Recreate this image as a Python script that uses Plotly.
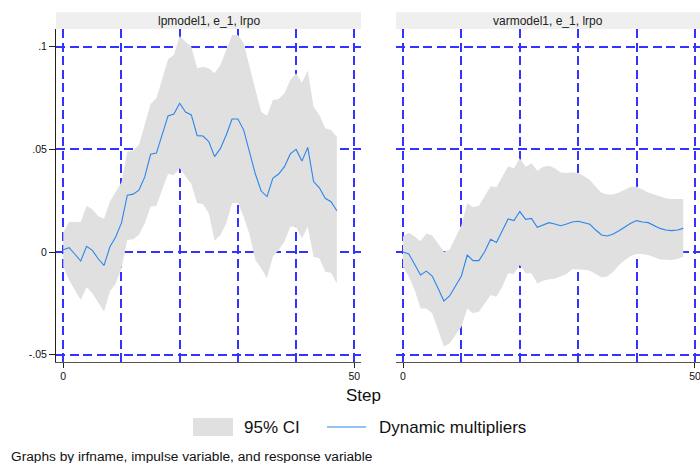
import plotly.graph_objects as go

steps_lp = list(range(0, 48))
steps_var = list(range(0, 49))

irf_lp = [0.0011, 0.0021, -0.0011, -0.0044, 0.0028, 0.0008, -0.0033, -0.0065, 0.0024, 0.0073,
          0.0142, 0.0277, 0.0282, 0.0301, 0.0366, 0.0476, 0.0482, 0.0570, 0.0663, 0.0672,
          0.0725, 0.0682, 0.0668, 0.0567, 0.0565, 0.0538, 0.0465, 0.0505, 0.0570, 0.0648,
          0.0648, 0.0594, 0.0489, 0.0380, 0.0297, 0.0270, 0.0359, 0.0380, 0.0416, 0.0478,
          0.0500, 0.0443, 0.0510, 0.0343, 0.0313, 0.0262, 0.0245, 0.0201]
upper_lp = [0.0095, 0.0146, 0.0146, 0.0146, 0.0224, 0.0208, 0.0175, 0.0162, 0.0245, 0.0294,
            0.0340, 0.0489, 0.0495, 0.0521, 0.0620, 0.0721, 0.0749, 0.0850, 0.0939, 0.0960,
            0.1053, 0.1025, 0.1000, 0.0895, 0.0903, 0.0895, 0.0871, 0.0911, 0.0984, 0.1057,
            0.1057, 0.1017, 0.0903, 0.0789, 0.0684, 0.0663, 0.0741, 0.0745, 0.0773, 0.0838,
            0.0871, 0.0825, 0.0884, 0.0708, 0.0668, 0.0603, 0.0595, 0.0562]
lower_lp = [-0.0072, -0.0136, -0.0185, -0.0234, -0.0172, -0.0201, -0.0247, -0.0291, -0.0193, -0.0153,
            -0.0079, 0.0058, 0.0062, 0.0083, 0.0140, 0.0221, 0.0225, 0.0305, 0.0380, 0.0375,
            0.0408, 0.0367, 0.0331, 0.0237, 0.0234, 0.0189, 0.0055, 0.0083, 0.0140, 0.0237,
            0.0240, 0.0172, 0.0085, -0.0039, -0.0080, -0.0128, -0.0023, 0.0010, 0.0050, 0.0123,
            0.0123, 0.0067, 0.0123, -0.0023, -0.0031, -0.0096, -0.0101, -0.0153]

irf_var = [0.0000, -0.0010, -0.0061, -0.0112, -0.0093, -0.0117, -0.0177, -0.0239, -0.0213, -0.0166,
           -0.0117, -0.0015, -0.0042, -0.0042, 0.0002, 0.0062, 0.0046, 0.0104, 0.0161, 0.0153,
           0.0197, 0.0159, 0.0164, 0.0120, 0.0132, 0.0143, 0.0136, 0.0128, 0.0136, 0.0146,
           0.0150, 0.0143, 0.0135, 0.0107, 0.0083, 0.0078, 0.0088, 0.0104, 0.0123, 0.0140,
           0.0153, 0.0146, 0.0143, 0.0127, 0.0115, 0.0107, 0.0104, 0.0107, 0.0115]
upper_var = [0.0075, 0.0094, 0.0075, 0.0052, 0.0090, 0.0080, 0.0042, 0.0000, 0.0012, 0.0070,
             0.0130, 0.0237, 0.0218, 0.0225, 0.0270, 0.0320, 0.0315, 0.0370, 0.0418, 0.0408,
             0.0457, 0.0416, 0.0432, 0.0396, 0.0416, 0.0420, 0.0408, 0.0387, 0.0385, 0.0387,
             0.0385, 0.0370, 0.0351, 0.0318, 0.0289, 0.0280, 0.0280, 0.0290, 0.0306, 0.0318,
             0.0318, 0.0302, 0.0290, 0.0280, 0.0270, 0.0262, 0.0258, 0.0258, 0.0258]
lower_var = [-0.0072, -0.0120, -0.0185, -0.0275, -0.0275, -0.0299, -0.0380, -0.0461, -0.0445, -0.0404,
             -0.0364, -0.0275, -0.0299, -0.0291, -0.0250, -0.0210, -0.0218, -0.0169, -0.0104, -0.0107,
             -0.0063, -0.0104, -0.0104, -0.0153, -0.0140, -0.0133, -0.0130, -0.0120, -0.0107, -0.0084,
             -0.0084, -0.0086, -0.0091, -0.0107, -0.0123, -0.0120, -0.0096, -0.0063, -0.0039, -0.0020,
             -0.0010, -0.0010, -0.0015, -0.0026, -0.0036, -0.0039, -0.0039, -0.0034, -0.0023]

panel_titles = ["lpmodel1, e_1, lrpo", "varmodel1, e_1, lrpo"]
xgrid_vals = [0, 10, 20, 30, 40, 50]
xtick_vals = [0, 50]
xtick_text = ["0", "50"]
ytick_vals = [-0.05, 0, 0.05, 0.1]
ytick_text = ["-.05", "0", ".05", ".1"]
legend_labels = ["95% CI", "Dynamic multipliers"]
x_title = "Step"
note = "Graphs by irfname, impulse variable, and response variable"

W, H = 700, 463
CI_COLOR = "#E0E0E0"
LINE_COLOR = "#2A86EC"
GRID_COLOR = "#3333FF"
GRID_DASH = "9px,4.5px"
GRID_W = 1.5
FONT = "Liberation Sans, Arial, sans-serif"


def px_x(p):
    return p / W


def px_y(p):
    return (H - p) / H


fig = go.Figure()

panels = [
    (steps_lp, irf_lp, upper_lp, lower_lp, "x", "y", "x3"),
    (steps_var, irf_var, upper_var, lower_var, "x2", "y2", "x4"),
]
for st, irf, up, lo, xa, ya, xlab in panels:
    fig.add_trace(go.Scatter(x=st + st[::-1], y=up + lo[::-1], fill="toself",
                             fillcolor=CI_COLOR, line=dict(width=0), mode="lines",
                             hoverinfo="skip", showlegend=False, xaxis=xa, yaxis=ya))
    fig.add_trace(go.Scatter(x=st, y=irf, mode="lines", line=dict(color=LINE_COLOR, width=1.1),
                             showlegend=False, xaxis=xa, yaxis=ya))
    # empty trace so the label-only overlay axis is drawn
    fig.add_trace(go.Scatter(x=[None], y=[None], mode="lines", showlegend=False,
                             hoverinfo="skip", xaxis=xlab, yaxis=ya))

y_dom = [px_y(361.7), px_y(29)]
y_rng = [-0.05346, 0.10867]
x_doms = [[px_x(56), px_x(361)], [px_x(396), 1.0]]
x_rngs = [[-1.25, 51.15], [-1.2, 50.86]]

grid_x = dict(tickmode="array", tickvals=xgrid_vals, showticklabels=False, ticks="",
              showline=True, linecolor="#555", linewidth=1, zeroline=False,
              showgrid=True, gridcolor=GRID_COLOR, griddash=GRID_DASH, gridwidth=GRID_W)
label_x = dict(tickmode="array", tickvals=xtick_vals, ticktext=xtick_text, ticks="outside",
               ticklen=5, tickcolor="#222", tickfont=dict(size=10.5, color="#111", family=FONT),
               ticklabeloverflow="allow",
               showline=False, showgrid=False, zeroline=False)

fig.update_layout(
    width=W, height=H,
    margin=dict(l=0, r=0, t=0, b=0),
    paper_bgcolor="white", plot_bgcolor="white",
    font=dict(family=FONT, color="#111"),
    showlegend=False,
    xaxis=dict(domain=x_doms[0], range=x_rngs[0], anchor="y", **grid_x),
    xaxis2=dict(domain=x_doms[1], range=x_rngs[1], anchor="y2", **grid_x),
    xaxis3=dict(domain=x_doms[0], range=x_rngs[0], anchor="y", overlaying="x", side="bottom", **label_x),
    xaxis4=dict(domain=x_doms[1], range=x_rngs[1], anchor="y2", overlaying="x2", side="bottom", **label_x),
    yaxis=dict(domain=y_dom, range=y_rng, anchor="x", tickmode="array",
               tickvals=ytick_vals, ticktext=ytick_text, ticks="outside", ticklen=6,
               tickcolor="#222", tickfont=dict(size=10.5, color="#111", family=FONT),
               showline=True, linecolor="#222", linewidth=1, zeroline=False,
               showgrid=True, gridcolor=GRID_COLOR, griddash=GRID_DASH, gridwidth=GRID_W),
    yaxis2=dict(domain=y_dom, range=y_rng, anchor="x2", tickmode="array",
                tickvals=ytick_vals, showticklabels=False, ticks="", showline=False,
                zeroline=False, showgrid=True, gridcolor=GRID_COLOR, griddash=GRID_DASH,
                gridwidth=GRID_W),
)

shapes = []
annotations = []
strips = [(56, 361, panel_titles[0]), (396, 700, panel_titles[1])]
for x0, x1, title in strips:
    shapes.append(dict(type="rect", xref="paper", yref="paper", x0=px_x(x0), x1=px_x(x1),
                       y0=px_y(29), y1=px_y(12.3), fillcolor="#EFEFEF", line=dict(width=0),
                       layer="below"))
    annotations.append(dict(xref="paper", yref="paper", x=px_x((x0 + x1) / 2), y=px_y(20.8),
                            text=title, showarrow=False, xanchor="center", yanchor="middle",
                            font=dict(size=12, color="#222", family=FONT)))

annotations.append(dict(xref="paper", yref="paper", x=px_x(363), y=px_y(395), text=x_title,
                        showarrow=False, xanchor="center", yanchor="middle",
                        font=dict(size=17, color="#111", family=FONT)))

# legend
shapes.append(dict(type="rect", xref="paper", yref="paper", x0=px_x(193), x1=px_x(233),
                   y0=px_y(436), y1=px_y(418), fillcolor=CI_COLOR, line=dict(width=0)))
annotations.append(dict(xref="paper", yref="paper", x=px_x(242), y=px_y(427.5),
                        text=legend_labels[0], showarrow=False, xanchor="left", yanchor="middle",
                        font=dict(size=17, color="#111", family=FONT)))
shapes.append(dict(type="line", xref="paper", yref="paper", x0=px_x(327), x1=px_x(366),
                   y0=px_y(427), y1=px_y(427), line=dict(color=LINE_COLOR, width=1.2)))
annotations.append(dict(xref="paper", yref="paper", x=px_x(377), y=px_y(427.5),
                        text=legend_labels[1], showarrow=False, xanchor="left", yanchor="middle",
                        font=dict(size=17, color="#111", family=FONT)))

annotations.append(dict(xref="paper", yref="paper", x=px_x(9), y=px_y(456), text=note,
                        showarrow=False, xanchor="left", yanchor="middle",
                        font=dict(size=13.7, color="#111", family=FONT)))

fig.update_layout(shapes=shapes, annotations=annotations)

fig.write_html("out.html", config={"displayModeBar": False},
               post_script="document.body.style.margin='0px';document.body.style.overflow='hidden';")
